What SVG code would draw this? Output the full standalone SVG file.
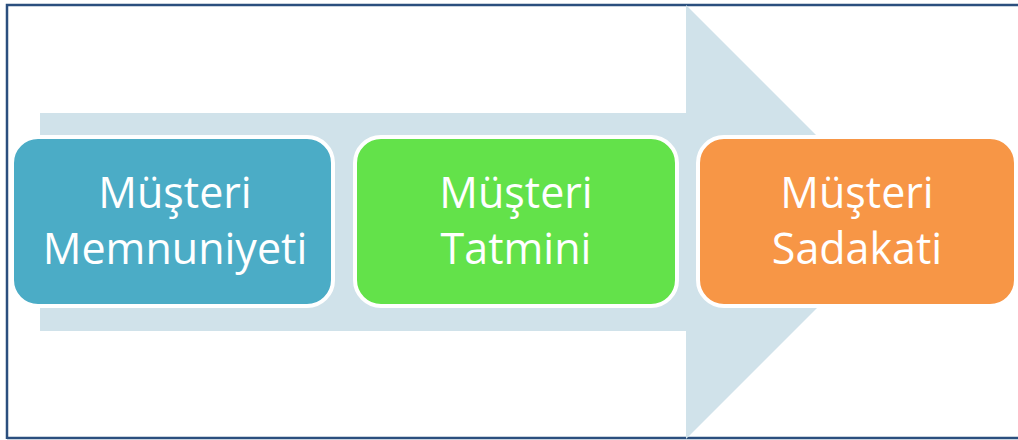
<svg xmlns="http://www.w3.org/2000/svg" width="1018" height="440" viewBox="0 0 1018 440">
  <style>
    .box { stroke: #ffffff; stroke-width: 4; }
    .lbl { font-family: "Open Sans", "Liberation Sans", sans-serif; font-size: 43px; fill: #ffffff; text-anchor: middle; }
  </style>
  <rect x="0" y="0" width="1018" height="440" fill="#ffffff"/>
  <!-- frame -->
  <path d="M7,439 L7,5 L1018,5 M7,438 L1018,438" fill="none" stroke="#2b4f7e" stroke-width="2.5"/>
  <!-- background arrow -->
  <g id="connectors">
    <path d="M40,113 L686,113 L686,5 L903,222 L686,439 L686,331 L40,331 Z" fill="#d0e2ea"/>
  </g>
  <g id="node-memnuniyet">
    <rect class="box" x="12" y="137" width="321" height="169" rx="26" fill="#4bacc6"/>
    <text class="lbl" x="175" y="208">Müşteri</text>
    <text class="lbl" x="175" y="264">Memnuniyeti</text>
  </g>
  <g id="node-tatmin">
    <rect class="box" x="355" y="137" width="322" height="169" rx="26" fill="#63e24a"/>
    <text class="lbl" x="516" y="208">Müşteri</text>
    <text class="lbl" x="516" y="264">Tatmini</text>
  </g>
  <g id="node-sadakat">
    <rect class="box" x="698" y="137" width="318" height="169" rx="26" fill="#f79646"/>
    <text class="lbl" x="857" y="208">Müşteri</text>
    <text class="lbl" x="857" y="264">Sadakati</text>
  </g>
</svg>
